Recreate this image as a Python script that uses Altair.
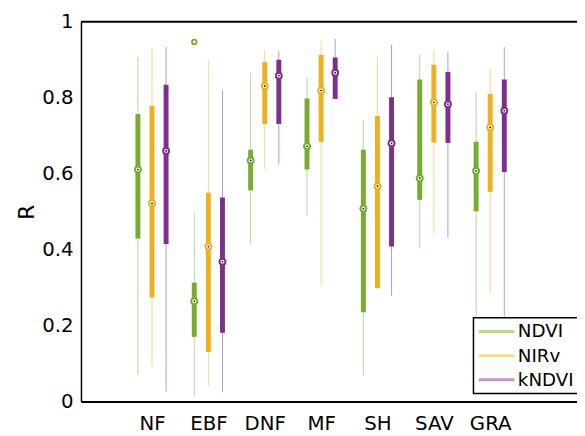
import json
import altair as alt
import pandas as pd

categories = ["NF", "EBF", "DNF", "MF", "SH", "SAV", "GRA"]
series = ["NDVI", "NIRv", "kNDVI"]
colors = ["#77AC30", "#EDB120", "#7E2F8E"]

# NDVI
ndvi_lo = [0.071, 0.013, 0.413, 0.488, 0.068, 0.403, 0.020]
ndvi_q1 = [0.429, 0.170, 0.556, 0.611, 0.235, 0.531, 0.501]
ndvi_med = [0.611, 0.264, 0.635, 0.672, 0.508, 0.588, 0.607]
ndvi_q3 = [0.757, 0.313, 0.663, 0.798, 0.663, 0.848, 0.684]
ndvi_hi = [0.907, 0.495, 0.868, 0.854, 0.741, 0.913, 0.813]

# NIRv
nirv_lo = [0.092, 0.041, 0.613, 0.307, 0.298, 0.442, 0.285]
nirv_q1 = [0.274, 0.130, 0.731, 0.684, 0.298, 0.682, 0.552]
nirv_med = [0.522, 0.408, 0.831, 0.819, 0.567, 0.788, 0.722]
nirv_q3 = [0.779, 0.550, 0.894, 0.913, 0.752, 0.887, 0.810]
nirv_hi = [0.931, 0.898, 0.926, 0.948, 0.911, 0.926, 0.878]

# kNDVI
kndvi_lo = [0.026, 0.024, 0.624, 0.797, 0.279, 0.431, 0.050]
kndvi_q1 = [0.415, 0.181, 0.731, 0.797, 0.408, 0.681, 0.604]
kndvi_med = [0.660, 0.368, 0.858, 0.866, 0.680, 0.783, 0.766]
kndvi_q3 = [0.834, 0.537, 0.900, 0.906, 0.801, 0.868, 0.848]
kndvi_hi = [0.934, 0.819, 0.923, 0.955, 0.940, 0.920, 0.933]

# outliers
outlier_category = ["EBF"]
outlier_series = ["NDVI"]
outlier_value = [0.947]

y_ticks = [0, 0.2, 0.4, 0.6, 0.8, 1]

stats = {
    "NDVI": (ndvi_lo, ndvi_q1, ndvi_med, ndvi_q3, ndvi_hi),
    "NIRv": (nirv_lo, nirv_q1, nirv_med, nirv_q3, nirv_hi),
    "kNDVI": (kndvi_lo, kndvi_q1, kndvi_med, kndvi_q3, kndvi_hi),
}
hex_of = dict(zip(series, colors))

GROUP = 4  # boxplot positions: 3 boxes per category + a gap
rows = []
for s_i, name in enumerate(series):
    lo, q1, med, q3, hi = stats[name]
    for c_i, cat in enumerate(categories):
        rows.append(dict(series=name, hex=hex_of[name], category=cat,
                         pos=GROUP * c_i + s_i - 1,
                         lo=lo[c_i], q1=q1[c_i], med=med[c_i], q3=q3[c_i], hi=hi[c_i]))
df = pd.DataFrame(rows)

df_out = pd.DataFrame({
    "series": outlier_series,
    "category": outlier_category,
    "value": outlier_value,
})
df_out["hex"] = [hex_of[s] for s in outlier_series]
df_out["pos"] = [GROUP * categories.index(c) + series.index(s) - 1
                 for c, s in zip(outlier_category, outlier_series)]

W, H = 503, 385

xscale = alt.Scale(domain=[-5.04, 30.16], nice=False, zero=False)
xaxis = alt.Axis(
    values=[GROUP * i for i in range(len(categories))],
    labelExpr=f"{json.dumps(categories)}[round(datum.value/{GROUP})]",
    ticks=False, grid=False, domainColor="black", domainWidth=2,
    labelFontSize=20, labelPadding=12, labelColor="black", title=None,
)
yscale = alt.Scale(domain=[0, 1], nice=False, zero=False)
yaxis = alt.Axis(
    values=y_ticks, format="~g", ticks=False, grid=False,
    domainColor="black", domainWidth=1.5, labelFontSize=20, labelPadding=8,
    labelColor="black", title="R", titleFontSize=22, titleFontWeight="normal",
    titleColor="black", titlePadding=3,
)
cscale = alt.Scale(domain=series, range=colors)

base = alt.Chart(df).encode(
    x=alt.X("pos:Q", scale=xscale, axis=xaxis),
)

whisk = base.mark_rule(strokeWidth=1, opacity=0.5).encode(
    y=alt.Y("lo:Q", scale=yscale, axis=yaxis),
    y2="hi:Q",
    color=alt.Color("hex:N", scale=None),
)
box = base.mark_rule(strokeWidth=5, strokeCap="butt", opacity=1).encode(
    y="q1:Q", y2="q3:Q",
    color=alt.Color("series:N", scale=cscale, sort=series, legend=alt.Legend(
        title=None, orient="none", legendX=398, legendY=300, direction="vertical",
        symbolType="stroke", symbolSize=1296, symbolStrokeWidth=3, symbolOpacity=1,
        clipHeight=20, rowPadding=4.5,
        labelFontSize=18.5, labelColor="black", strokeColor="black", fillColor="white",
        padding=4, labelOffset=2,
    )),
)
med_ring = base.mark_point(filled=True, size=64, opacity=1, shape="circle").encode(
    y="med:Q",
    color=alt.Color("hex:N", scale=None),
)
med_white = base.mark_point(filled=True, size=16, opacity=1, shape="circle", color="white").encode(
    y="med:Q",
)
med_dot = base.mark_point(filled=True, size=3, opacity=1, shape="circle", color="black").encode(
    y="med:Q",
)
outl = alt.Chart(df_out).mark_point(filled=False, size=22, strokeWidth=1.8, opacity=1, shape="circle").encode(
    x=alt.X("pos:Q", scale=xscale),
    y=alt.Y("value:Q", scale=yscale),
    color=alt.Color("hex:N", scale=None),
)
top_border = alt.Chart(pd.DataFrame({"k": [0]})).mark_rule(color="black", strokeWidth=2).encode(
    x=alt.value(0), x2=alt.value(W), y=alt.value(0),
)

chart = alt.layer(whisk, box, med_ring, med_white, med_dot, outl, top_border).properties(
    width=W, height=H,
    autosize=alt.AutoSizeParams(type="none"),
    padding={"left": 74, "top": 11, "right": 0, "bottom": 30},
).configure(font="DejaVu Sans").configure_view(stroke=None).configure_legend(strokeWidth=1.5)

chart.save("out.html", embed_options={"renderer": "svg", "actions": False})
